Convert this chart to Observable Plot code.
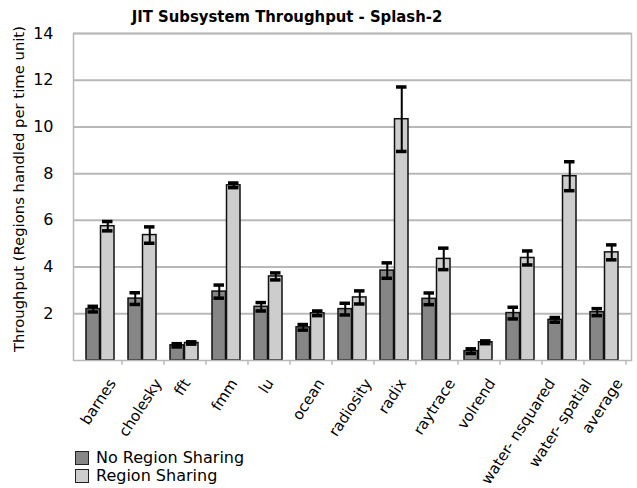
<!DOCTYPE html>
<html>
<head>
<meta charset="utf-8">
<script src="https://cdn.jsdelivr.net/npm/d3@7"></script>
<script src="https://cdn.jsdelivr.net/npm/@observablehq/plot@0.6"></script>
<style>
  body { margin: 0; background: #fff; font-family: "DejaVu Sans", sans-serif; }
  #wrap { position: relative; width: 637px; height: 488px; }
  #title { position: absolute; top: 7px; left: 0; width: 574px; text-align: center;
    font-family: "DejaVu Sans", sans-serif; font-weight: bold; font-stretch: condensed; font-size: 16.5px; color: #000; }
  .leg { position: absolute; left: 75px; font-size: 16px; line-height: 18px; color: #000; display: flex; align-items: center; }
  .sw { width: 12px; height: 12px; border: 1.5px solid #222; margin-right: 7px; }
</style>
</head>
<body>
<div id="wrap">
  <div id="title">JIT Subsystem Throughput - Splash-2</div>
  <div id="chart"></div>
  <div class="leg" style="top:449px"><div class="sw" style="background:#868686"></div>No Region Sharing</div>
  <div class="leg" style="top:467px"><div class="sw" style="background:#cdcdcd"></div>Region Sharing</div>
</div>
<script>
const categories = ["barnes","cholesky","fft","fmm","lu","ocean","radiosity","radix","raytrace","volrend","water- nsquared","water- spatial","average"];
const seriesNames = ["No Region Sharing", "Region Sharing"];
const noSharing    = [2.2, 2.65, 0.65, 2.95, 2.3, 1.42, 2.2, 3.85, 2.64, 0.4, 2.03, 1.74, 2.07];
const noSharingErr = [0.12, 0.25, 0.07, 0.28, 0.18, 0.12, 0.25, 0.33, 0.25, 0.1, 0.25, 0.1, 0.15];
const sharing      = [5.75, 5.37, 0.75, 7.5, 3.6, 2.02, 2.7, 10.33, 4.35, 0.78, 4.39, 7.89, 4.63];
const sharingErr   = [0.2, 0.35, 0.05, 0.1, 0.15, 0.1, 0.28, 1.38, 0.46, 0.06, 0.3, 0.62, 0.32];
const yTicks = [2, 4, 6, 8, 10, 12, 14];
const yLabel = "Throughput (Regions handled per time unit)";

const rowsNo = categories.map((c, i) => ({cat: c, series: seriesNames[0], value: noSharing[i], err: noSharingErr[i]}));
const rowsYes = categories.map((c, i) => ({cat: c, series: seriesNames[1], value: sharing[i], err: sharingErr[i]}));

// styling: half-band offsets (pixels)
const half = 14.5, step = 558 / 13;
const angle = 57;
const labelSize = 15;

function seriesMarks(rows, side) {
  const inset = side < 0 ? {insetRight: half} : {insetLeft: half};
  const capInset = side < 0 ? {insetLeft: 1.5, insetRight: half + 1.5} : {insetLeft: half + 1.5, insetRight: 1.5};
  return [
    Plot.barY(rows, {x: "cat", y: "value", fill: "series", stroke: "#111", strokeWidth: 1.5, ...inset}),
    Plot.ruleX(rows, {x: "cat", dx: side * half / 2, y1: d => d.value - d.err, y2: d => d.value + d.err, stroke: "#000", strokeWidth: 2}),
    Plot.tickY(rows, {x: "cat", y: d => d.value - d.err, stroke: "#000", strokeWidth: 3.5, ...capInset}),
    Plot.tickY(rows, {x: "cat", y: d => d.value + d.err, stroke: "#000", strokeWidth: 3.5, ...capInset})
  ];
}

// x tick labels: rotated, each label's box centred on its category
const ctx = document.createElement("canvas").getContext("2d");
ctx.font = labelSize + "px 'DejaVu Sans'";
const cosA = Math.cos(angle * Math.PI / 180);
const labelMarks = categories.map(c => Plot.text([c], {
  x: d => d, y: () => 0, text: d => d,
  rotate: -angle, textAnchor: "end", lineAnchor: "middle", fontSize: labelSize,
  dx: ctx.measureText(c).width * cosA / 2 - 2, dy: 20
}));

const chart = Plot.plot({
  width: 637,
  height: 488,
  marginLeft: 73,
  marginRight: 6,
  marginTop: 33,
  marginBottom: 128,
  style: {fontSize: "16px", fontFamily: "DejaVu Sans, sans-serif", color: "#000"},
  x: {domain: categories, paddingInner: 0.325, paddingOuter: 0.1625, axis: null},
  y: {domain: [0, 14], ticks: yTicks, tickSize: 0, tickPadding: 20, label: null},
  color: {domain: seriesNames, range: ["#868686", "#cdcdcd"]},
  marks: [
    Plot.gridY(yTicks, {stroke: "#b8b8b8", strokeOpacity: 1, strokeWidth: 2}),
    ...seriesMarks(rowsNo, -1),
    ...seriesMarks(rowsYes, 1),
    Plot.ruleX(categories, {x: d => d, dx: step / 2, y1: 0, y2: -0.2, stroke: "#b8b8b8", strokeWidth: 1.5}),
    Plot.frame({stroke: "#b8b8b8", strokeWidth: 1.5}),
    ...labelMarks,
    Plot.text([yLabel], {frameAnchor: "left", rotate: -90, textAnchor: "middle", dx: -54, dy: -8, fontSize: 14.8, text: d => d})
  ]
});
document.getElementById("chart").appendChild(chart);
</script>
</body>
</html>
